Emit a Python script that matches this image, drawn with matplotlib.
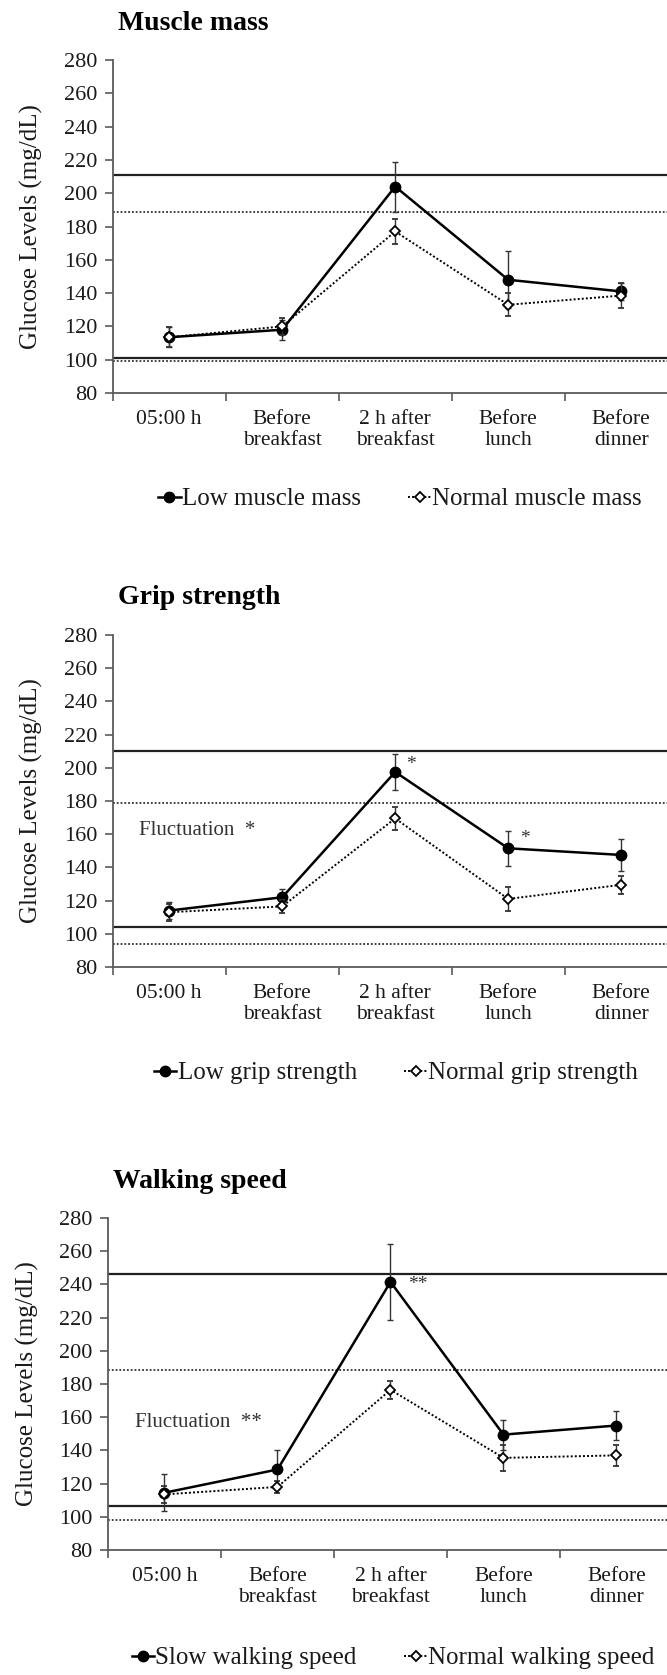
import matplotlib
matplotlib.use("Agg")
import matplotlib.pyplot as plt
from matplotlib.lines import Line2D

plt.rcParams['font.family'] = ['Liberation Serif', 'DejaVu Serif']

# categories on the x axis
categories = ['05:00 h', 'Before\nbreakfast', '2 h after\nbreakfast', 'Before\nlunch', 'Before\ndinner']

# Muscle mass
mm_low = [113.5, 118, 204, 148, 141]
mm_low_err = [6, 6, 15, 17, 5]
mm_norm = [113.5, 120, 177, 133, 138.5]
mm_norm_err = [6, 5, 7.5, 7, 7.5]
mm_solid = [211, 101]
mm_dotted = [189, 99]

# Grip strength
gs_low = [114, 122, 197.5, 151.5, 147.5]
gs_low_err = [5, 5, 11, 10.5, 9.5]
gs_norm = [113, 116.5, 169.5, 121, 129.5]
gs_norm_err = [5, 4, 7, 7, 5.5]
gs_solid = [210, 104]
gs_dotted = [179, 94]

# Walking speed
ws_low = [114.5, 128.5, 241.5, 149.5, 155]
ws_low_err = [11, 12, 23, 9, 8.5]
ws_norm = [113.5, 118, 176.5, 135.5, 137]
ws_norm_err = [5, 3.5, 5.5, 8, 6.5]
ws_solid = [246, 106.5]
ws_dotted = [188.5, 98]

W, H = 667, 1675
fig = plt.figure(figsize=(W / 100, H / 100), dpi=100)

DOT = (0, (1, 1.1))
GRAY = '#5a5a5a'
TXT = '#1a1a1a'


def panel(left, top, bottom, title, low, low_err, norm, norm_err, solid, dotted,
          labels, leg_y, leg_x, notes):
    ax = fig.add_axes([left / W, 1 - bottom / H, 565 / W, (bottom - top) / H])
    x = list(range(1, len(categories) + 1))

    for v in solid:
        ax.axhline(v, color='#202020', lw=1.6, zorder=1)
    for v in dotted:
        ax.axhline(v, color='#303030', lw=1.3, ls=DOT, zorder=1)

    ax.errorbar(x, low, yerr=low_err, color='black', lw=1.8, marker='o', ms=7.5,
                mfc='black', mec='black', ecolor='#333333', elinewidth=1.0,
                capsize=2, capthick=1.0, zorder=3)
    ax.errorbar(x, norm, yerr=norm_err, color='black', lw=1.4, ls=DOT, marker='D',
                ms=5, mfc='white', mec='black', mew=1.3, ecolor='#333333',
                elinewidth=1.0, capsize=2, capthick=1.0, zorder=4)

    for xx, yy, s, fs, ha in notes:
        ax.text(xx, yy, s, ha=ha, va='center', fontsize=fs, color='#333333')

    ax.set_xlim(0.5, 5.5)
    ax.set_ylim(80, 280)
    ax.set_yticks(range(80, 281, 20))
    ax.set_xticks([0.5 + i for i in range(6)])
    ax.set_xticklabels([])
    ax.set_xticks(x, minor=True)
    ax.set_xticklabels(categories, minor=True, fontsize=15.5, color=TXT, linespacing=1.15)
    ax.tick_params(axis='x', which='minor', length=0, pad=12)
    ax.tick_params(axis='x', which='major', length=6, width=1.2, color=GRAY, direction='out')
    ax.tick_params(axis='y', length=6, width=1.2, color=GRAY, labelsize=16, labelcolor=TXT, pad=5)
    for s in ['top', 'right']:
        ax.spines[s].set_visible(False)
    for s in ['left', 'bottom']:
        ax.spines[s].set_color(GRAY)
        ax.spines[s].set_linewidth(1.3)
    ax.set_ylabel('Glucose Levels (mg/dL)', fontsize=18, color=TXT, labelpad=15)

    fig.text((left + 5) / W, 1 - (top - 37) / H, title, fontsize=20, fontweight='bold',
             ha='left', va='center', color='black')

    handles = [
        Line2D([], [], color='black', lw=1.8, marker='o', ms=7.5, mfc='black'),
        Line2D([], [], color='black', lw=1.4, ls=DOT, marker='D', ms=5, mfc='white', mew=1.3),
    ]
    fig.legend(handles, labels, loc='center', bbox_to_anchor=(leg_x / W, 1 - leg_y / H),
               ncol=2, frameon=False, fontsize=18, handlelength=0.9, handletextpad=0.05,
               columnspacing=1.9, labelcolor=TXT)
    return ax


panel(112.7, 60, 393, 'Muscle mass', mm_low, mm_low_err, mm_norm, mm_norm_err,
      mm_solid, mm_dotted, ['Low muscle mass', 'Normal muscle mass'], 499, 400, [])

panel(112.7, 635, 967, 'Grip strength', gs_low, gs_low_err, gs_norm, gs_norm_err,
      gs_solid, gs_dotted, ['Low grip strength', 'Normal grip strength'], 1073, 396,
      [(0.73, 162.5, 'Fluctuation  *', 15, 'left'), (3.14, 202, '*', 14, 'center'),
       (4.15, 157.5, '*', 14, 'center')])

panel(108, 1218, 1550, 'Walking speed', ws_low, ws_low_err, ws_norm, ws_norm_err,
      ws_solid, ws_dotted, ['Slow walking speed', 'Normal walking speed'], 1658, 393,
      [(0.74, 157, 'Fluctuation  **', 15, 'left'), (3.24, 240, '**', 14, 'center')])

fig.savefig('out.png', dpi=100)
